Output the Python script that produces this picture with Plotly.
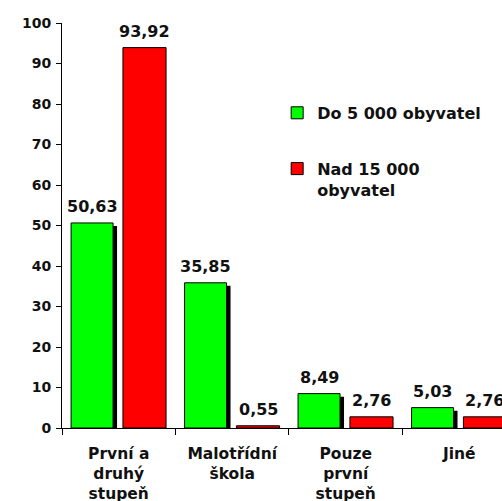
import plotly.graph_objects as go

categories = ["První a<br>druhý<br>stupeň", "Malotřídní<br>škola", "Pouze<br>první<br>stupeň", "Jiné"]
do_5000 = [50.63, 35.85, 8.49, 5.03]
nad_15000 = [93.92, 0.55, 2.76, 2.76]

ink = "#111111"
tick_font = dict(family="DejaVu Sans", size=14, color=ink, weight="bold")
cat_font = dict(family="DejaVu Sans", size=15.5, color=ink, weight="bold")
big_font = dict(family="DejaVu Sans", size=16, color=ink, weight="bold")

GREEN_OFF, GREEN_W = -0.42, 0.37
RED_OFF, RED_W = 0.037, 0.38

fig = go.Figure()
# shadow behind the green bars
fig.add_trace(go.Bar(
    x=categories, y=[v - 0.75 for v in do_5000],
    offset=GREEN_OFF + 0.035, width=GREEN_W,
    marker=dict(color="black", line=dict(width=0)),
    showlegend=False, hoverinfo="skip"
))
fig.add_trace(go.Bar(
    x=categories, y=do_5000, name="Do 5 000 obyvatel",
    offset=GREEN_OFF, width=GREEN_W,
    marker=dict(color="#00ff00", line=dict(color="black", width=1)),
    legendgroup="a"
))
fig.add_trace(go.Bar(
    x=categories, y=nad_15000, name="Nad 15 000<br>obyvatel",
    offset=RED_OFF, width=RED_W,
    marker=dict(color="#ff0000", line=dict(color="black", width=1)),
    legendgroup="b"
))

# value labels above the bars
for i in range(len(categories)):
    for vals, off, w in [(do_5000, GREEN_OFF, GREEN_W), (nad_15000, RED_OFF, RED_W)]:
        fig.add_annotation(
            x=i + off + w / 2, y=vals[i], xref="x", yref="y",
            text=f"{vals[i]:.2f}".replace(".", ","),
            showarrow=False, yanchor="bottom", yshift=5,
            font=big_font
        )

fig.update_layout(
    width=502, height=501,
    margin=dict(l=62, r=0, t=23, b=73),
    barmode="overlay",
    separators=", ",
    plot_bgcolor="white", paper_bgcolor="white",
    font=tick_font,
    legend=dict(
        x=0.489, y=0.82, xanchor="left", yanchor="top",
        tracegroupgap=32, valign="top",
        font=big_font, bgcolor="rgba(0,0,0,0)"
    ),
    xaxis=dict(
        range=[-0.5, 3.377],
        showline=True, linecolor="black", linewidth=1,
        ticks="outside", tickson="boundaries", ticklen=6, tickcolor="black",
        ticklabelstandoff=11, automargin=False,
        showgrid=False, tickfont=cat_font
    ),
    yaxis=dict(
        range=[0, 100], dtick=10,
        showline=True, linecolor="black", linewidth=1,
        ticks="outside", ticklen=5, tickcolor="black",
        ticklabelstandoff=2, automargin=False,
        showgrid=False, zeroline=False, tickfont=tick_font
    ),
)

fig.write_html("out.html", config={"displayModeBar": False},
               post_script="document.body.style.margin='0';")
